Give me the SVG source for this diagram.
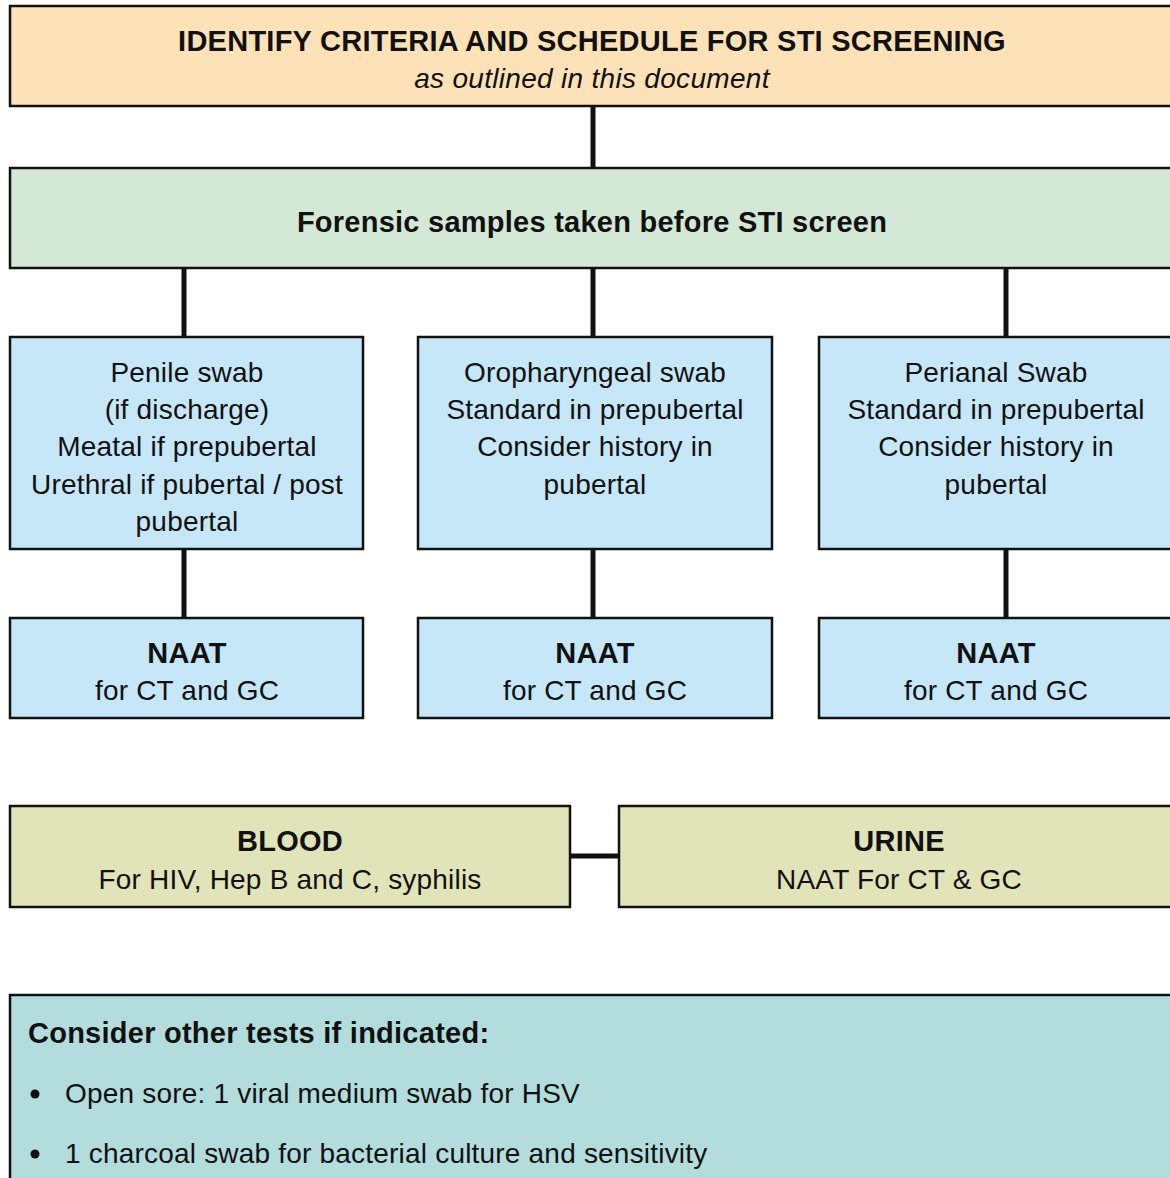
<svg xmlns="http://www.w3.org/2000/svg" width="1170" height="1178" viewBox="0 0 1170 1178">
  <style>
    .box { stroke: #111; stroke-width: 2.5; }
    .hdr { fill: #FDE2B8; }
    .grn { fill: #D4E9D5; }
    .blu { fill: #C6E7F7; }
    .olv { fill: #E1E4B9; }
    .tea { fill: #B2DDDC; }
    text { font-family: "Liberation Sans", Arial, sans-serif; font-size: 28px; letter-spacing: 0.2px; fill: #111; }
    .c { text-anchor: middle; }
    .b { font-weight: bold; font-size: 29px; letter-spacing: 0.25px; }
    .i { font-style: italic; letter-spacing: 0.3px; }
    .link { stroke: #111; stroke-width: 5; fill: none; }
  </style>

  <g id="connectors">
    <line class="link" x1="593" y1="106" x2="593" y2="168"/>
    <line class="link" x1="184" y1="268" x2="184" y2="337"/>
    <line class="link" x1="593" y1="268" x2="593" y2="337"/>
    <line class="link" x1="1006" y1="268" x2="1006" y2="337"/>
    <line class="link" x1="184" y1="549" x2="184" y2="618"/>
    <line class="link" x1="593" y1="549" x2="593" y2="618"/>
    <line class="link" x1="1006" y1="549" x2="1006" y2="618"/>
    <line class="link" x1="570" y1="856" x2="619" y2="856"/>
  </g>

  <g id="criteria">
    <rect class="box hdr" x="10" y="6" width="1170" height="100"/>
    <text class="c b" x="592" y="51">IDENTIFY CRITERIA AND SCHEDULE FOR STI SCREENING</text>
    <text class="c i" x="592" y="88">as outlined in this document</text>
  </g>

  <g id="forensic">
    <rect class="box grn" x="10" y="168" width="1170" height="100"/>
    <text class="c b" x="592" y="232">Forensic samples taken before STI screen</text>
  </g>

  <g id="penile-swab">
    <rect class="box blu" x="10" y="337" width="353" height="212"/>
    <text class="c" x="187" y="382">Penile swab</text>
    <text class="c" x="187" y="419">(if discharge)</text>
    <text class="c" x="187" y="456">Meatal if prepubertal</text>
    <text class="c" x="187" y="494">Urethral if pubertal / post</text>
    <text class="c" x="187" y="531">pubertal</text>
  </g>

  <g id="oropharyngeal-swab">
    <rect class="box blu" x="418" y="337" width="354" height="212"/>
    <text class="c" x="595" y="382">Oropharyngeal swab</text>
    <text class="c" x="595" y="419">Standard in prepubertal</text>
    <text class="c" x="595" y="456">Consider history in</text>
    <text class="c" x="595" y="494">pubertal</text>
  </g>

  <g id="perianal-swab">
    <rect class="box blu" x="819" y="337" width="360" height="212"/>
    <text class="c" x="996" y="382">Perianal Swab</text>
    <text class="c" x="996" y="419">Standard in prepubertal</text>
    <text class="c" x="996" y="456">Consider history in</text>
    <text class="c" x="996" y="494">pubertal</text>
  </g>

  <g id="naat-penile">
    <rect class="box blu" x="10" y="618" width="353" height="100"/>
    <text class="c b" x="187" y="663">NAAT</text>
    <text class="c" x="187" y="700">for CT and GC</text>
  </g>

  <g id="naat-oropharyngeal">
    <rect class="box blu" x="418" y="618" width="354" height="100"/>
    <text class="c b" x="595" y="663">NAAT</text>
    <text class="c" x="595" y="700">for CT and GC</text>
  </g>

  <g id="naat-perianal">
    <rect class="box blu" x="819" y="618" width="360" height="100"/>
    <text class="c b" x="996" y="663">NAAT</text>
    <text class="c" x="996" y="700">for CT and GC</text>
  </g>

  <g id="blood">
    <rect class="box olv" x="10" y="806" width="560" height="101"/>
    <text class="c b" x="290" y="851">BLOOD</text>
    <text class="c" x="290" y="889">For HIV, Hep B and C, syphilis</text>
  </g>

  <g id="urine">
    <rect class="box olv" x="619" y="806" width="560" height="101"/>
    <text class="c b" x="899" y="851">URINE</text>
    <text class="c" x="899" y="889">NAAT For CT &amp; GC</text>
  </g>

  <g id="other-tests">
    <rect class="box tea" x="10" y="995" width="1170" height="200"/>
    <text class="b" x="28" y="1043">Consider other tests if indicated:</text>
    <circle cx="35" cy="1094" r="4.5" fill="#111"/>
    <text x="65" y="1103">Open sore: 1 viral medium swab for HSV</text>
    <circle cx="35" cy="1154" r="4.5" fill="#111"/>
    <text x="65" y="1163">1 charcoal swab for bacterial culture and sensitivity</text>
  </g>
</svg>
